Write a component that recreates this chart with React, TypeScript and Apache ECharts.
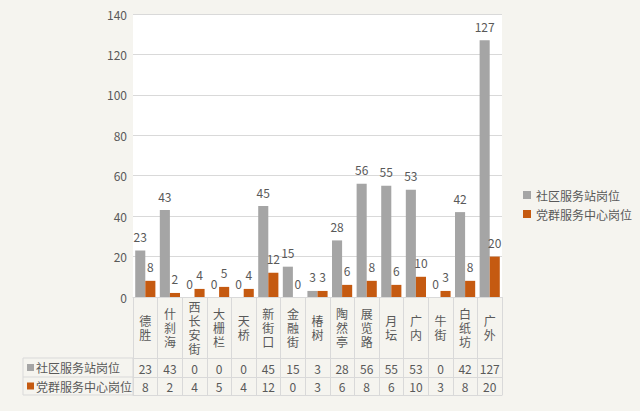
import React, { useEffect, useRef } from "react";
import * as echarts from "echarts";

const categories = ["德胜", "什刹海", "西长安街", "大栅栏", "天桥", "新街口", "金融街", "椿树", "陶然亭", "展览路", "月坛", "广内", "牛街", "白纸坊", "广外"];
const seriesNames = ["社区服务站岗位", "党群服务中心岗位"];
const stationJobs = [23, 43, 0, 0, 0, 45, 15, 3, 28, 56, 55, 53, 0, 42, 127];
const centerJobs = [8, 2, 4, 5, 4, 12, 0, 3, 6, 8, 6, 10, 3, 8, 20];
const colors = ["#a5a5a5", "#c55a11"];

const FONT = "'Noto Sans CJK SC', 'Noto Sans', sans-serif";
const TEXT = "#595959";
const LINE = "#d9d9d9";

export default function App() {
  const ref = useRef<HTMLDivElement>(null);
  useEffect(() => {
    if (!ref.current) return;
    const chart = echarts.init(ref.current, undefined, { renderer: "svg" });
    const gridLeft = 133, gridRight = 502, gridTop = 14, gridBottom = 297;
    const tableRow1 = 358, tableRow2 = 377, tableEnd = 395;
    const baseAxis = {
      type: "category" as const,
      gridIndex: 0,
      position: "bottom" as const,
      boundaryGap: true,
      axisTick: { show: false },
      splitLine: { show: false },
    };
    const dataLabel = { show: true, position: "top", color: TEXT, fontSize: 12, distance: 8, fontFamily: FONT };
    chart.setOption({
      animation: false,
      backgroundColor: "#f5f4ef",
      textStyle: { fontFamily: FONT },
      grid: {
        left: gridLeft,
        right: 640 - gridRight,
        top: gridTop,
        bottom: 411 - gridBottom,
        show: true,
        backgroundColor: "#ffffff",
        borderWidth: 0,
      },
      legend: {
        orient: "vertical",
        left: 518,
        top: 184,
        itemWidth: 8,
        itemHeight: 8,
        itemGap: 7,
        icon: "rect",
        data: seriesNames,
        textStyle: { color: TEXT, fontSize: 12, fontFamily: FONT },
      },
      xAxis: [
        {
          ...baseAxis,
          data: categories,
          axisLine: { show: true, lineStyle: { color: LINE } },
          axisTick: { show: true, length: tableEnd - gridBottom, interval: 0, lineStyle: { color: LINE } },
          axisLabel: {
            interval: 0,
            margin: 30,
            verticalAlign: "middle",
            color: TEXT,
            fontSize: 12,
            lineHeight: 14,
            fontFamily: FONT,
            formatter: (v: string) => v.split("").join("\n"),
          },
        },
        {
          ...baseAxis,
          data: stationJobs.map(String),
          offset: tableRow1 - gridBottom,
          axisLine: { show: true, lineStyle: { color: LINE } },
          axisLabel: { interval: 0, margin: 10, verticalAlign: "middle", color: TEXT, fontSize: 12, fontFamily: FONT },
        },
        {
          ...baseAxis,
          data: centerJobs.map(String),
          offset: tableRow2 - gridBottom,
          axisLine: { show: true, lineStyle: { color: LINE } },
          axisLabel: { interval: 0, margin: 9, verticalAlign: "middle", color: TEXT, fontSize: 12, fontFamily: FONT },
        },
        {
          ...baseAxis,
          data: categories,
          offset: tableEnd - gridBottom,
          axisLine: { show: true, lineStyle: { color: LINE } },
          axisLabel: { show: false },
        },
      ],
      yAxis: {
        type: "value",
        min: 0,
        max: 140,
        interval: 20,
        axisLine: { show: false },
        axisTick: { show: false },
        splitLine: { lineStyle: { color: LINE } },
        axisLabel: { color: TEXT, fontSize: 12, margin: 6, fontFamily: FONT },
      },
      series: [
        {
          name: seriesNames[0],
          type: "bar",
          data: stationJobs,
          xAxisIndex: 0,
          itemStyle: { color: colors[0] },
          barGap: "0%",
          barCategoryGap: "18%",
          label: dataLabel,
        },
        {
          name: seriesNames[1],
          type: "bar",
          data: centerJobs,
          xAxisIndex: 0,
          itemStyle: { color: colors[1] },
          barGap: "0%",
          barCategoryGap: "18%",
          label: dataLabel,
        },
      ],
      graphic: [
        {
          type: "rect",
          shape: { x: 23, y: tableRow1, width: gridLeft - 23, height: tableEnd - tableRow1 },
          style: { fill: "rgba(0,0,0,0)", stroke: LINE, lineWidth: 1 },
          silent: true,
        },
        {
          type: "line",
          shape: { x1: 23, y1: tableRow2, x2: gridLeft, y2: tableRow2 },
          style: { stroke: LINE, lineWidth: 1 },
          silent: true,
        },
        {
          type: "rect",
          shape: { x: 27, y: (tableRow1 + tableRow2) / 2 - 3.5, width: 7, height: 7 },
          style: { fill: colors[0] },
          silent: true,
        },
        {
          type: "text",
          x: 36,
          y: (tableRow1 + tableRow2) / 2,
          style: { text: seriesNames[0], fill: TEXT, fontSize: 12, fontFamily: FONT, verticalAlign: "middle", align: "left" },
          silent: true,
        },
        {
          type: "rect",
          shape: { x: 27, y: (tableRow2 + tableEnd) / 2 - 3.5, width: 7, height: 7 },
          style: { fill: colors[1] },
          silent: true,
        },
        {
          type: "text",
          x: 36,
          y: (tableRow2 + tableEnd) / 2,
          style: { text: seriesNames[1], fill: TEXT, fontSize: 12, fontFamily: FONT, verticalAlign: "middle", align: "left" },
          silent: true,
        },
      ],
    });
    return () => chart.dispose();
  }, []);
  return <div ref={ref} style={{ position: "fixed", left: 0, top: 0, width: 640, height: 411 }} />;
}
